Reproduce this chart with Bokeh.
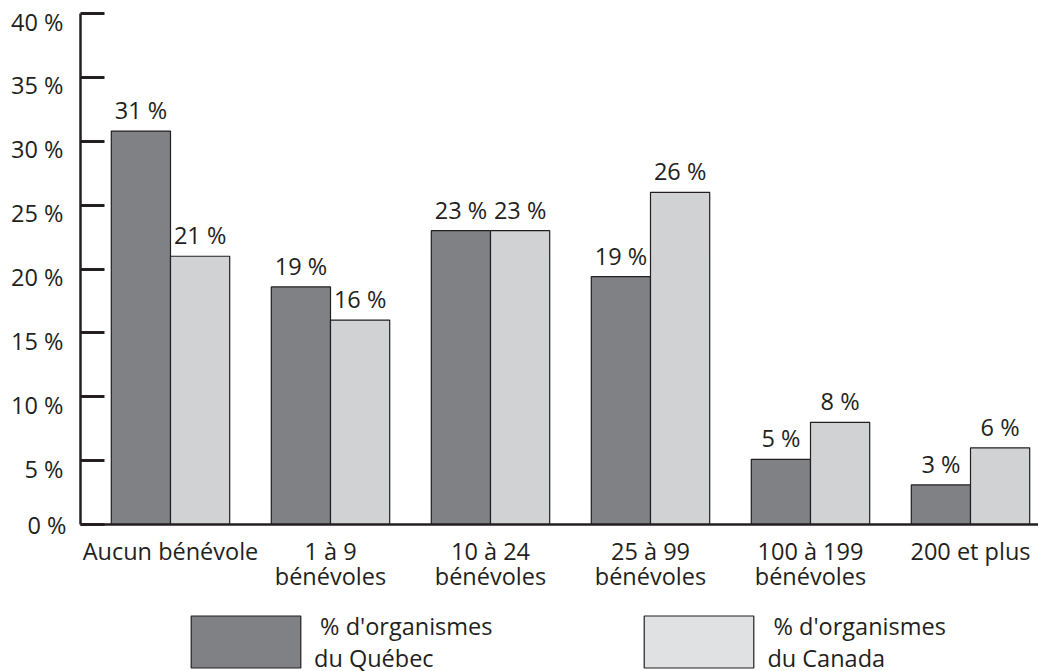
from bokeh.plotting import figure
from bokeh.layouts import column
from bokeh.models import (ColumnDataSource, Range1d, LinearAxis, FixedTicker,
                          Legend, LegendItem)
from bokeh.core.properties import value
from bokeh.embed import file_html
from bokeh.resources import INLINE

# ---- data ----
categories_line1 = ["Aucun bénévole", "1 à 9", "10 à 24", "25 à 99", "100 à 199", "200 et plus"]
categories_line2 = ["", "bénévoles", "bénévoles", "bénévoles", "bénévoles", ""]
quebec = [30.8, 18.6, 23.0, 19.4, 5.1, 3.1]
canada = [21.0, 16.0, 23.0, 26.0, 8.0, 6.0]
quebec_labels = ["31 %", "19 %", "23 %", "19 %", "5 %", "3 %"]
canada_labels = ["21 %", "16 %", "23 %", "26 %", "8 %", "6 %"]
y_ticks = [0, 5, 10, 15, 20, 25, 30, 35, 40]
y_tick_labels = ["0 %", "5 %", "10 %", "15 %", "20 %", "25 %", "30 %", "35 %", "40 %"]
legend_labels = [" % d'organismes\ndu Québec", " % d'organismes\ndu Canada"]

FONT = "Open Sans"
FS = "23.5px"
INK = "#231f20"
DARK = "#808184"
LIGHT = "#d1d2d4"
LIGHT_LEG = "#e0e1e3"

idx = list(range(len(categories_line1)))
OFF = 0.185
W = 0.37
LABEL_SHIFT = 0.63   # tick labels sit a little below their tick marks

src_q = ColumnDataSource(dict(x=[i - OFF for i in idx], top=quebec, lab=quebec_labels))
src_c = ColumnDataSource(dict(x=[i + OFF for i in idx], top=canada, lab=canada_labels))

p = figure(width=1038, height=600, output_backend="svg", toolbar_location=None,
           x_range=Range1d(-0.5625, 5.425), y_range=Range1d(0, 40),
           min_border_left=80, min_border_right=0, min_border_top=13, min_border_bottom=76,
           x_axis_location=None, y_axis_location=None)
p.extra_y_ranges = {"lab": Range1d(LABEL_SHIFT, 40 + LABEL_SHIFT)}
p.outline_line_color = None
p.xgrid.visible = False
p.ygrid.visible = False
p.background_fill_color = "white"

rq = p.vbar(x="x", top="top", width=W, source=src_q, fill_color=DARK,
            line_color=INK, line_width=1.2)
rc = p.vbar(x="x", top="top", width=W, source=src_c, fill_color=LIGHT,
            line_color=INK, line_width=1.2)

for s in (src_q, src_c):
    p.text(x="x", y="top", text="lab", source=s, text_align="center",
           text_baseline="alphabetic", y_offset=-21, text_font=value(FONT),
           text_font_size=FS, text_color=INK)

# y axis: line + ticks (+ the "0 %" label, which cannot sit on the shifted scale)
yax = LinearAxis(ticker=FixedTicker(ticks=y_ticks),
                 major_label_overrides={t: (l if t == 0 else "") for t, l in zip(y_ticks, y_tick_labels)})
yax.axis_line_color = INK
yax.axis_line_width = 2.5
yax.major_tick_in = 24
yax.major_tick_out = 0
yax.major_tick_line_width = 3
yax.major_tick_line_color = INK
yax.minor_tick_line_color = None
yax.major_label_standoff = 14
yax.major_label_text_font = FONT
yax.major_label_text_font_size = FS
yax.major_label_text_color = INK
p.add_layout(yax, "left")

# y axis: the other tick labels, set slightly below their ticks
ylab = LinearAxis(y_range_name="lab", ticker=FixedTicker(ticks=y_ticks[1:]),
                  major_label_overrides={t: l for t, l in zip(y_ticks, y_tick_labels)})
ylab.axis_line_color = None
ylab.major_tick_line_color = None
ylab.minor_tick_line_color = None
ylab.major_tick_in = 0
ylab.major_tick_out = 0
ylab.major_label_standoff = -39
ylab.major_label_text_font = FONT
ylab.major_label_text_font_size = FS
ylab.major_label_text_color = INK
p.add_layout(ylab, "left")

# x axis (two label lines)
xax1 = LinearAxis(ticker=FixedTicker(ticks=idx),
                  major_label_overrides={i: l for i, l in zip(idx, categories_line1)})
xax1.axis_line_color = INK
xax1.axis_line_width = 2.5
xax1.major_tick_line_color = None
xax1.minor_tick_line_color = None
xax1.major_tick_in = 0
xax1.major_tick_out = 0
xax1.major_label_standoff = 10
xax1.major_label_text_font = FONT
xax1.major_label_text_font_size = FS
xax1.major_label_text_color = INK
p.add_layout(xax1, "below")

xax2 = LinearAxis(ticker=FixedTicker(ticks=idx),
                  major_label_overrides={i: (l if l else " ") for i, l in zip(idx, categories_line2)})
xax2.axis_line_color = None
xax2.major_tick_line_color = None
xax2.minor_tick_line_color = None
xax2.major_tick_in = 0
xax2.major_tick_out = 0
xax2.major_label_standoff = -10
xax2.major_label_text_font = FONT
xax2.major_label_text_font_size = FS
xax2.major_label_text_color = INK
p.add_layout(xax2, "below")

# legend strip (its bar renderers are hidden; only the legend shows)
lg = figure(width=1038, height=71, output_backend="svg", toolbar_location=None,
            x_range=Range1d(-0.5625, 5.425), y_range=Range1d(0, 40),
            min_border_left=0, min_border_right=0, min_border_top=0, min_border_bottom=0,
            x_axis_location=None, y_axis_location=None)
lg.outline_line_color = None
lg.xgrid.visible = False
lg.ygrid.visible = False
lq = lg.vbar(x="x", top="top", width=W, source=src_q,
             fill_color=DARK, line_color=INK, line_width=1.2, visible=False)
lc = lg.vbar(x="x", top="top", width=W, source=src_c,
             fill_color=LIGHT_LEG, line_color=INK, line_width=1.2, visible=False)
legend = Legend(items=[LegendItem(label=legend_labels[0], renderers=[lq]),
                       LegendItem(label=legend_labels[1], renderers=[lc])],
                orientation="horizontal", location=(97, -3),
                glyph_width=137, glyph_height=65, label_standoff=0,
                label_width=1, label_height=65, spacing=138, padding=0, margin=0,
                border_line_color=None, background_fill_alpha=0,
                inactive_fill_alpha=0,
                label_text_font=FONT, label_text_font_size=FS,
                label_text_color=INK, label_text_line_height=0.85)
lg.add_layout(legend, "center")

layout = column(p, lg, spacing=0)
open("out.html", "w").write(file_html(layout, INLINE))
